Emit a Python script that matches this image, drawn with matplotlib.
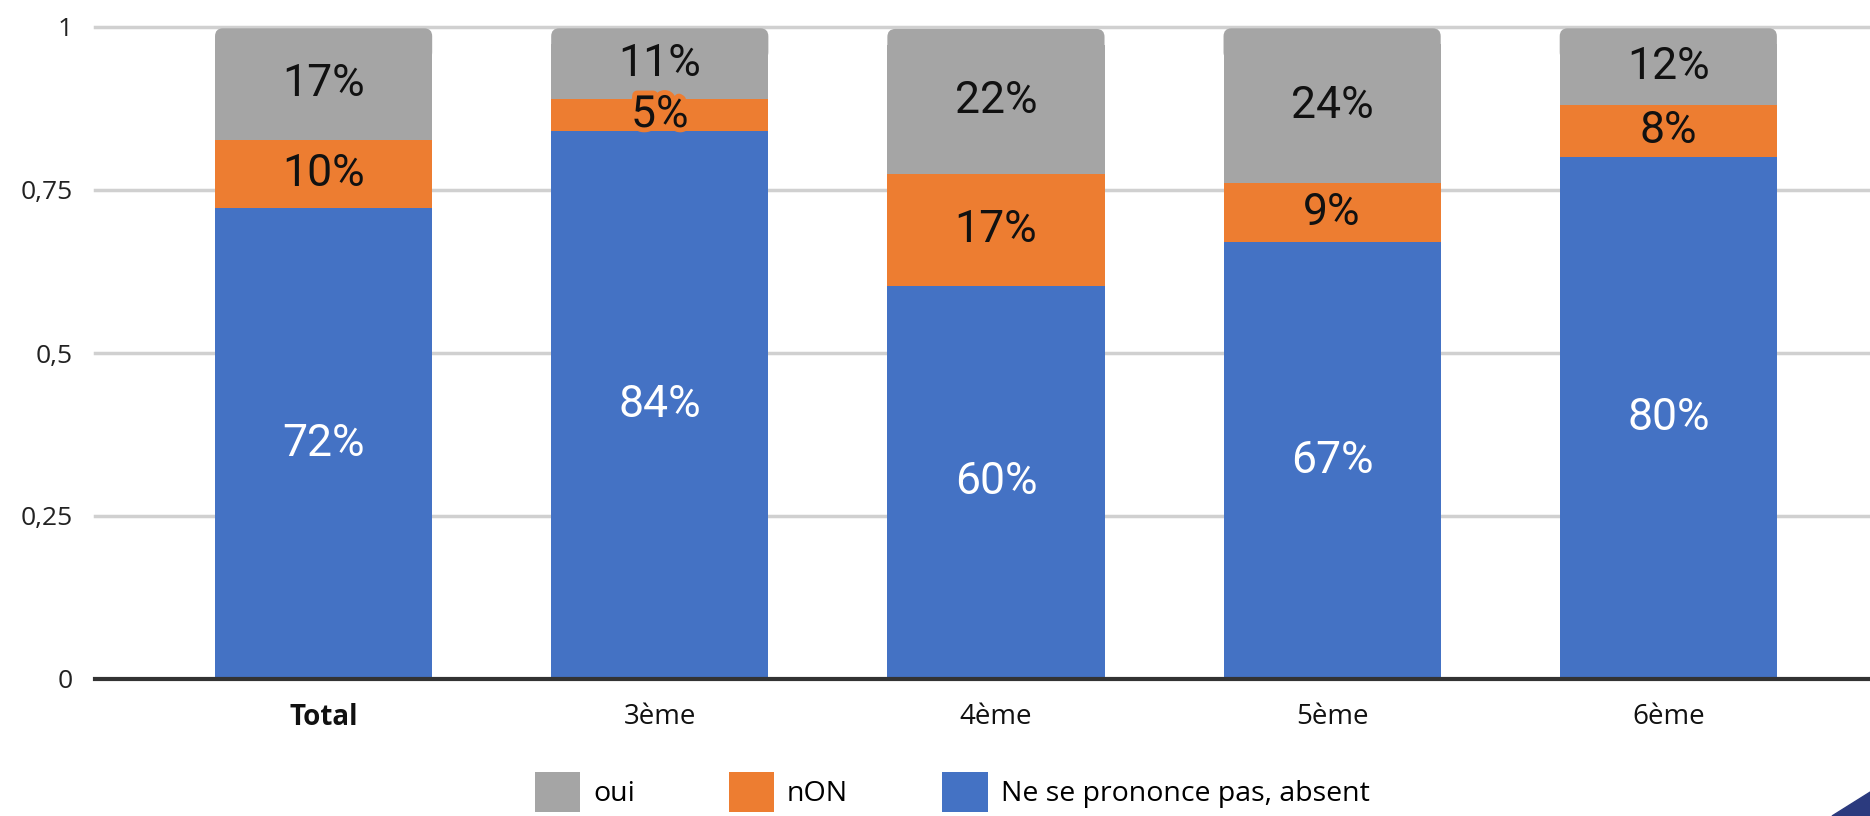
import matplotlib
matplotlib.use("Agg")
import matplotlib.pyplot as plt
import matplotlib.patheffects as pe
from matplotlib.patches import Patch, Polygon, FancyBboxPatch
import numpy as np

categories = ["Total", "3ème", "4ème", "5ème", "6ème"]
series_names = ["oui", "nON", "Ne se prononce pas, absent"]
ne_se_prononce = [0.722, 0.840, 0.603, 0.670, 0.800]
non = [0.104, 0.050, 0.172, 0.090, 0.080]
oui = [0.172, 0.108, 0.222, 0.238, 0.118]
y_ticks = [0, 0.25, 0.5, 0.75, 1]
y_tick_labels = ["0", "0,25", "0,5", "0,75", "1"]

c_blue = "#4472C4"
c_orange = "#ED7D31"
c_gray = "#A5A5A5"

W, H = 1870, 816
fig = plt.figure(figsize=(W / 100, H / 100), dpi=100)
ax = fig.add_axes([95 / W, 1 - 679 / H, 1 - 95 / W, 652 / H])
xlim = (-0.68, 4.60)
ylim = (0, 1)

x = np.arange(len(categories))
bw = 0.646
blue = np.array(ne_se_prononce)
orange = np.array(non)
gray = np.array(oui)

ax.bar(x, blue, bw, color=c_blue, zorder=3)
ax.bar(x, orange, bw, bottom=blue, color=c_orange, zorder=3)
gbars = ax.bar(x, gray, bw, bottom=blue + orange, color=c_gray, zorder=3)

# rounded top corners on the top segment
ax_w_px = W - 95
ax_h_px = 652
xpp = (xlim[1] - xlim[0]) / ax_w_px
ypp = (ylim[1] - ylim[0]) / ax_h_px
r_px = 8
for p in gbars:
    x0, y0, w, h = p.get_x(), p.get_y(), p.get_width(), p.get_height()
    ry = 2 * r_px * ypp
    p.set_height(h - ry)
    ax.add_patch(FancyBboxPatch((x0, y0 + h - 2 * ry), w, 2 * ry,
                                boxstyle=f"round,pad=0,rounding_size={r_px * xpp}",
                                mutation_aspect=ypp / xpp, facecolor=c_gray,
                                edgecolor="none", zorder=3))

lab_font = dict(family="Roboto", fontsize=32)
for i in range(len(categories)):
    ax.text(x[i], blue[i] / 2, f"{round(blue[i]*100)}%", ha="center", va="center",
            color="white", zorder=5, **lab_font)
    t = ax.text(x[i], blue[i] + orange[i] / 2, f"{round(orange[i]*100)}%", ha="center",
                va="center", color="#111111", zorder=5, **lab_font)
    if orange[i] < 0.07:
        t.set_path_effects([pe.withStroke(linewidth=7, foreground=c_orange)])
    ax.text(x[i], blue[i] + orange[i] + gray[i] / 2, f"{round(gray[i]*100)}%", ha="center",
            va="center", color="#111111", zorder=5, **lab_font)

ax.set_xlim(*xlim)
ax.set_ylim(*ylim)
ax.set_yticks(y_ticks)
ax.set_yticklabels(y_tick_labels, family="Open Sans", fontsize=19, color="#222222")
ax.set_xticks(x)
ax.set_xticklabels(categories, family="Open Sans", fontsize=20, color="#111111")
ax.get_xticklabels()[0].set_fontweight("bold")
ax.tick_params(axis="y", length=0, pad=16)
ax.tick_params(axis="x", length=0, pad=17)

for s in ["top", "right", "left"]:
    ax.spines[s].set_visible(False)
ax.spines["bottom"].set_color("#333333")
ax.spines["bottom"].set_linewidth(3)
ax.spines["bottom"].set_zorder(4)
for yt in y_ticks[1:]:
    ax.axhline(yt, color="#D0D0D0", lw=2.5, zorder=1, clip_on=False)

handles = [Patch(facecolor=c_gray), Patch(facecolor=c_orange), Patch(facecolor=c_blue)]
fig.legend(handles, series_names, loc="center", bbox_to_anchor=(952 / W, 1 - 792 / H),
           ncol=3, frameon=False, prop=dict(family="Open Sans", size=20.5),
           handlelength=1.6, handleheight=1.8, handletextpad=0.45,
           columnspacing=3.3)

fig.patches.append(Polygon([[1832 / W, 0], [1 + 0.001, 25 / H], [1 + 0.001, 0]], closed=True,
                           transform=fig.transFigure, color="#2B3A7E", zorder=10))

fig.savefig("out.png", dpi=100)
